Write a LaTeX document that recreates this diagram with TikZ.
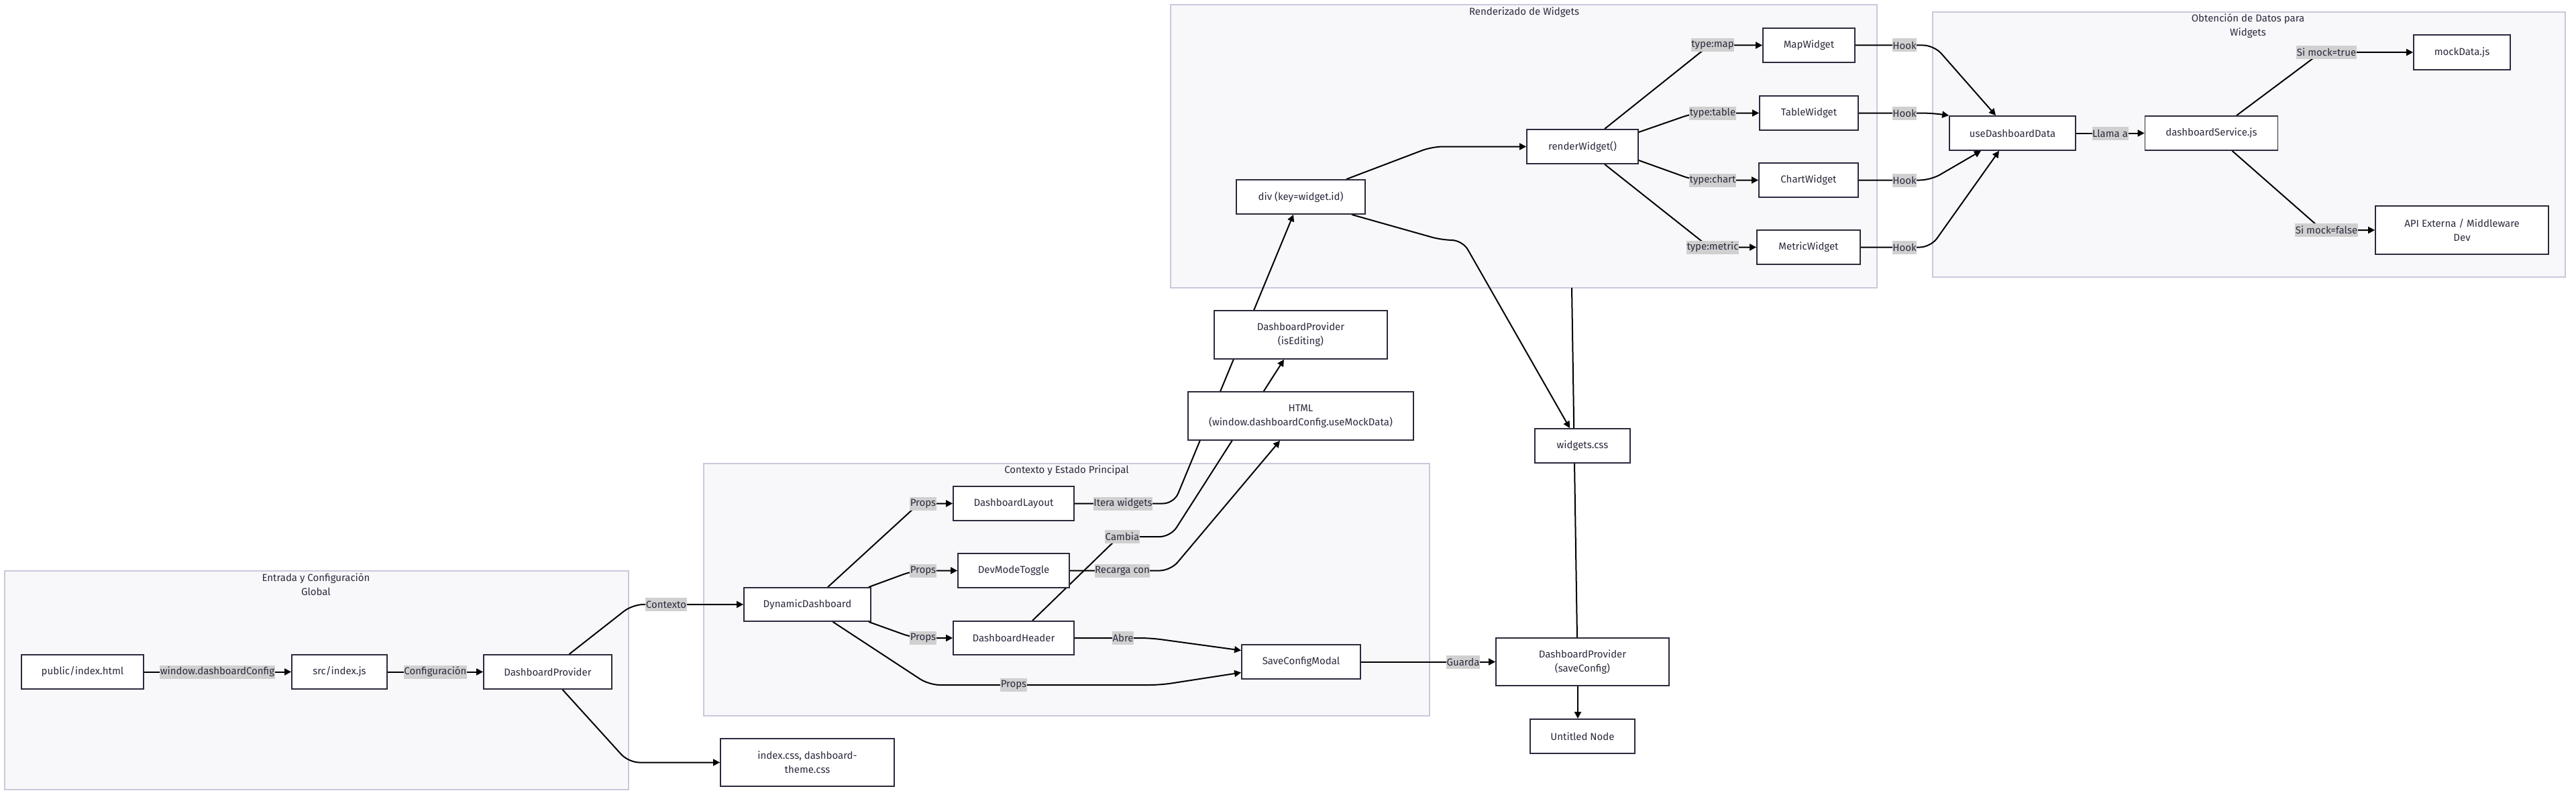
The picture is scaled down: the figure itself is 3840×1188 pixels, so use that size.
\documentclass[tikz,border=0pt]{standalone}
\usepackage{fontspec}
\setmainfont{Fira Sans}
\usetikzlibrary{arrows.meta,calc}
\definecolor{ink}{HTML}{2A2A3D}
\definecolor{clfill}{HTML}{F8F8FA}
\definecolor{clline}{HTML}{C9C9DD}
\definecolor{lblbg}{HTML}{D0D0D0}
\pgfdeclarelayer{bg}
\pgfdeclarelayer{clus}
\pgfdeclarelayer{edges}
\pgfsetlayers{bg,clus,edges,main}
\tikzset{
  box/.style={draw=ink, line width=1.8pt, fill=white, inner sep=0pt, text=ink,
    font=\fontsize{15}{21}\selectfont, align=center},
  lbl/.style={fill=lblbg, inner xsep=0.5pt, inner ysep=0pt, minimum height=20pt, text=ink,
    font=\fontsize{15}{18}\selectfont},
  edge/.style={draw=black, line width=2pt, rounded corners=16pt},
  arr/.style={edge, -{Triangle[length=10pt,width=10pt]}},
  clus/.style={draw=clline, line width=1.6pt, fill=clfill},
  ctitle/.style={text=ink, font=\fontsize{15}{21}\selectfont, align=center, inner sep=0pt},
}
\begin{document}
\begin{tikzpicture}[x=1pt,y=-1pt]
\begin{pgfonlayer}{bg}
\fill[white] (0,0) rectangle (3840,1188);
\end{pgfonlayer}
\useasboundingbox (0,0) rectangle (3840,1188);

% clusters
\begin{pgfonlayer}{clus}
\draw[clus] (7,851) rectangle (937,1177);
\draw[clus] (1049,691) rectangle (2131,1067);
\draw[clus] (1745,7) rectangle (2798,429);
\draw[clus] (2881,18) rectangle (3824,413);
\end{pgfonlayer}
\node[ctitle] (t1) at (471,871.5) {Entrada y Configuración\\Global};
\node[ctitle] (t2) at (1590,701) {Contexto y Estado Principal};
\node[ctitle] (t3) at (2272,18) {Renderizado de Widgets};
\node[ctitle] (t4) at (3351,38.5) {Obtención de Datos para\\Widgets};
\coordinate (rbot) at (2343,429);

% nodes
\node[box, minimum width=182pt, minimum height=51pt] (pub) at (123,1001.5) {public/index.html};
\node[box, minimum width=142pt, minimum height=51pt] (srcjs) at (506,1001.5) {src/index.js};
\node[box, minimum width=191pt, minimum height=51pt] (dp) at (816.5,1001.5) {DashboardProvider};
\node[box, minimum width=259pt, minimum height=71pt] (css) at (1203.5,1136.5) {index.css, dashboard-\\theme.css};
\node[box, minimum width=189pt, minimum height=50pt] (dd) at (1203.5,901) {DynamicDashboard};
\node[box, minimum width=180pt, minimum height=51pt] (dl) at (1511,750.5) {DashboardLayout};
\node[box, minimum width=166pt, minimum height=51pt] (dmt) at (1511,850.5) {DevModeToggle};
\node[box, minimum width=180pt, minimum height=50pt] (dh) at (1511,951) {DashboardHeader};
\node[box, minimum width=177pt, minimum height=51pt] (scm) at (1939.5,986.5) {SaveConfigModal};
\node[box, minimum width=258pt, minimum height=72pt] (dpedit) at (1939,499) {DashboardProvider\\(isEditing)};
\node[box, minimum width=336pt, minimum height=72pt] (html) at (1939,620) {HTML\\(window.dashboardConfig.useMockData)};
\node[box, minimum width=192pt, minimum height=51pt] (divk) at (1939,293.5) {div (key=widget.id)};
\node[box, minimum width=166pt, minimum height=51pt] (rw) at (2359,218.5) {renderWidget()};
\node[box, minimum width=137pt, minimum height=51pt] (map) at (2696.5,67.5) {MapWidget};
\node[box, minimum width=147pt, minimum height=51pt] (table) at (2696.5,168.5) {TableWidget};
\node[box, minimum width=148pt, minimum height=51pt] (chart) at (2696,268.5) {ChartWidget};
\node[box, minimum width=154pt, minimum height=51pt] (metric) at (2696,368.5) {MetricWidget};
\node[box, minimum width=142pt, minimum height=51pt] (wcss) at (2359,664.5) {widgets.css};
\node[box, minimum width=258pt, minimum height=71pt] (dpsave) at (2359,986.5) {DashboardProvider\\(saveConfig)};
\node[box, minimum width=156pt, minimum height=51pt] (untitled) at (2359,1097.5) {Untitled Node};
\node[box, minimum width=188pt, minimum height=51pt] (udd) at (3000,198.5) {useDashboardData};
\node[box, minimum width=198pt, minimum height=51pt] (dsvc) at (3296.5,198.5) {dashboardService.js};
\node[box, minimum width=144pt, minimum height=52pt] (mock) at (3670,78) {mockData.js};
\node[box, minimum width=258pt, minimum height=72pt] (api) at (3670,343) {API Externa / Middleware\\Dev};

% edge labels
\node[lbl] (l1) at (324,1001.5) {window.dashboardConfig};
\node[lbl] (l2) at (649,1001.5) {Configuración};
\node[lbl] (l3) at (993,901) {Contexto};
\node[lbl] (lp1) at (1376,750.5) {Props};
\node[lbl] (lp2) at (1376,850.5) {Props};
\node[lbl] (lp3) at (1376,951) {Props};
\node[lbl] (lp4) at (1511,1021) {Props};
\node[lbl] (litera) at (1674,750.5) {Itera widgets};
\node[lbl] (lcambia) at (1673,800) {Cambia};
\node[lbl] (lrecarga) at (1673,850.5) {Recarga con};
\node[lbl] (labre) at (1674,951) {Abre};
\node[lbl] (lguarda) at (2181,986.5) {Guarda};
\node[lbl] (lmap) at (2553,67.5) {type:map};
\node[lbl] (ltable) at (2553,168.5) {type:table};
\node[lbl] (lchart) at (2553,268.5) {type:chart};
\node[lbl] (lmetric) at (2553,368.5) {type:metric};
\node[lbl] (lh1) at (2839,67.5) {Hook};
\node[lbl] (lh2) at (2839,168.5) {Hook};
\node[lbl] (lh3) at (2839,268.5) {Hook};
\node[lbl] (lh4) at (2839,368.5) {Hook};
\node[lbl] (lllama) at (3145.5,198.5) {Llama a};
\node[lbl] (ltrue) at (3468,78) {Si mock=true};
\node[lbl] (lfalse) at (3468,343) {Si mock=false};

% edges
\begin{pgfonlayer}{edges}
\draw[arr] (pub.east) -- (srcjs.west);
\draw[arr] (srcjs.east) -- (dp.west);
\draw[arr] ($(dp.north)+(32,0)$) -- (943,901) -- (dd.west);
\draw[arr] ($(dp.south)+(22,0)$) -- (937,1136.5) -- (css.west);
\draw[arr] ($(dd.north)+(30.5,0)$) -- (1370,750.5) -- (dl.west);
\draw[arr] ($(dd.north east)+(-4,0)$) -- (1362,850.5) -- (dmt.west);
\draw[arr] ($(dd.south east)+(-4,0)$) -- (1362,951) -- (dh.west);
\draw[arr] ($(dd.south)+(38,0)$) -- (1385,1021) -- (1730,1021) -- ($(scm.west)+(0,16)$);
\draw[arr] (dh.east) -- (1715,951) -- ($(scm.west)+(0,-17)$);
\draw[arr] (dmt.east) -- (1745,850.5) -- ($(html.south)+(-31,0)$);
\draw[arr] ($(dh.north)+(28,0)$) -- (1668,800) -- (1745,800) -- ($(dpedit.south)+(-25,0)$);
\draw[arr] (dl.east) -- (1750,750.5) -- ($(divk.south)+(-11,0)$);
\draw[arr] ($(divk.north)+(68,0)$) -- (2135,218.5) -- (rw.west);
\draw[arr] ($(divk.south)+(76,0)$) -- (2150,358) -- (2180,358) -- ($(wcss.north)+(-19,0)$);
\draw[edge] (rbot) -- ($(dpsave.north)+(-8,0)$);
\draw[arr] ($(dpsave.south)+(-7,0)$) -- ($(untitled.north)+(-7,0)$);
\draw[arr] (scm.east) -- (dpsave.west);
\draw[arr] ($(rw.north)+(33,0)$) -- (2548,67.5) -- (map.west);
\draw[arr] ($(rw.east)+(0,-21.5)$) -- (2525,168.5) -- (table.west);
\draw[arr] ($(rw.east)+(0,20.5)$) -- (2525,268.5) -- (chart.west);
\draw[arr] ($(rw.south)+(33,0)$) -- (2548,368.5) -- (metric.west);
\draw[arr] (map.east) -- (2883,67.5) -- ($(udd.north)+(-25,0)$);
\draw[arr] (table.east) -- (2880,168.5) -- (udd.north west);
\draw[arr] (chart.east) -- (2878,268.5) -- ($(udd.south)+(-47,0)$);
\draw[arr] (metric.east) -- (2878,368.5) -- ($(udd.south)+(-20,0)$);
\draw[arr] (udd.east) -- (dsvc.west);
\draw[arr] ($(dsvc.north)+(37.5,0)$) -- (3460,78) -- (mock.west);
\draw[arr] ($(dsvc.south)+(31,0)$) -- (3462,343) -- (api.west);
\end{pgfonlayer}
\end{tikzpicture}
\end{document}
